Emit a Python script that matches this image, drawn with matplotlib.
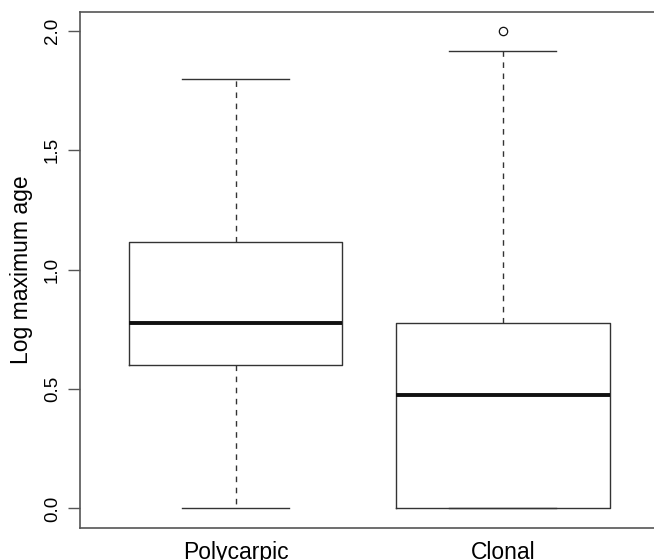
import matplotlib
matplotlib.use("Agg")
import matplotlib.pyplot as plt

# group summaries (log10 of maximum age)
groups = ["Polycarpic", "Clonal"]
whislo = [0.0, 0.0]
q1 = [0.602, 0.0]
med = [0.778, 0.477]
q3 = [1.114, 0.778]
whishi = [1.799, 1.914]
fliers = [[], [2.0]]

yticks = [0.0, 0.5, 1.0, 1.5, 2.0]

plt.rcParams['font.family'] = ['Liberation Sans', 'DejaVu Sans']

stats = []
for i in range(len(groups)):
    stats.append(dict(label=groups[i], whislo=whislo[i], q1=q1[i], med=med[i],
                      q3=q3[i], whishi=whishi[i], fliers=fliers[i]))

fig = plt.figure(figsize=(6.54, 5.6), dpi=100)
ax = fig.add_axes([0.123, 0.058, 0.883, 0.921])

edge = '#333333'
ax.bxp(stats, positions=[1, 2], widths=0.8, showfliers=True,
       boxprops=dict(color=edge, linewidth=1.0),
       whiskerprops=dict(color=edge, linewidth=1.0, linestyle=(0, (4, 4))),
       capprops=dict(color=edge, linewidth=1.0),
       capwidths=0.4,
       medianprops=dict(color='#111111', linewidth=2.8, solid_capstyle='butt'),
       flierprops=dict(marker='o', markersize=6, markerfacecolor='none',
                       markeredgecolor='#111111', markeredgewidth=0.9))

ax.set_xlim(0.42, 2.58)
ax.set_ylim(-0.08, 2.08)
ax.set_yticks(yticks)
ax.set_yticklabels(["%.1f" % v for v in yticks], rotation=90, va='center',
                   fontsize=13.5)
ax.tick_params(axis='y', length=9, width=1.0, color='#555555', pad=5)
ax.tick_params(axis='x', length=0, pad=10, labelsize=16.5)
ax.set_xticks([1, 2])
ax.set_xticklabels(groups)
for s in ax.spines.values():
    s.set_color('#555555')
    s.set_linewidth(1.2)
ax.set_ylabel("Log maximum age", fontsize=16.5, labelpad=8)

fig.savefig("out.png", dpi=100)
